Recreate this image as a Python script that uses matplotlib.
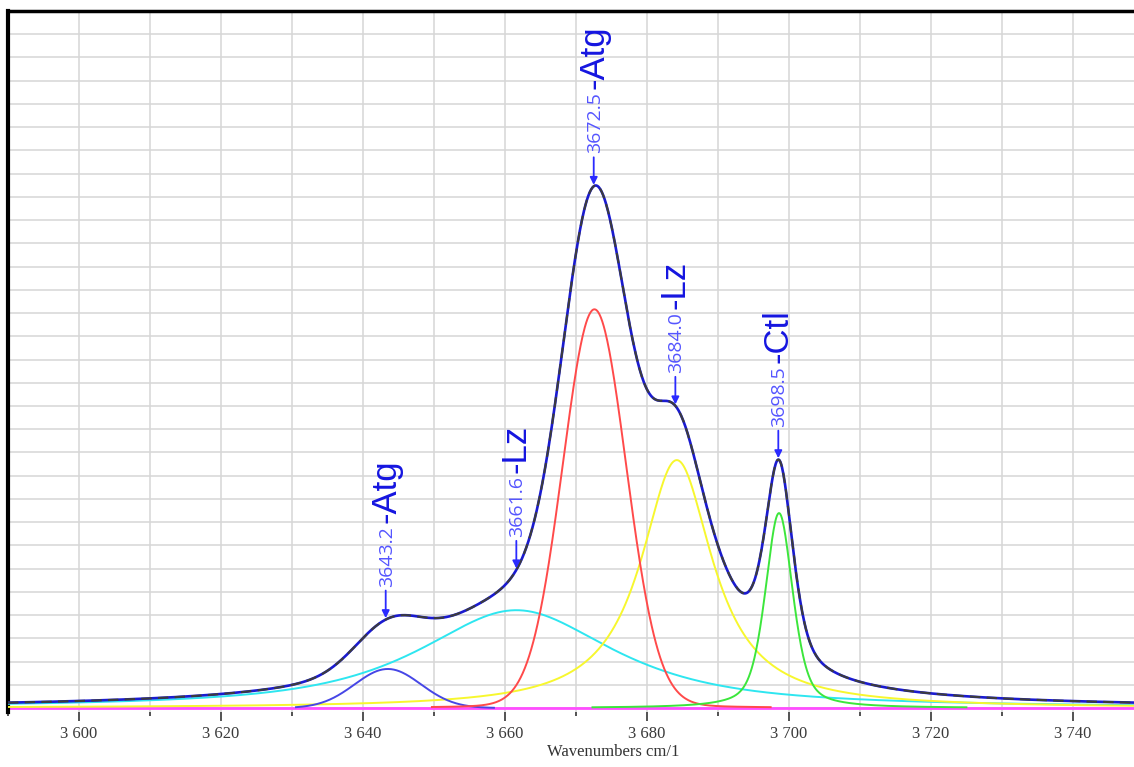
import matplotlib
matplotlib.use("Agg")
import matplotlib.pyplot as plt
import numpy as np
from matplotlib.ticker import MultipleLocator, FuncFormatter

# fitted band components
# (centre cm-1, height, fwhm cm-1, lorentz fraction, drawn from, drawn to)
comp_names = ["3643", "3661", "3672", "3684", "3698"]
comp_centre = [3643.5, 3661.6, 3672.6, 3684.2, 3698.6]
comp_height = [0.0168, 0.0421, 0.1716, 0.1067, 0.0839]
comp_fwhm = [11.0, 33.0, 10.6, 12.3, 4.6]
comp_eta = [0.0, 0.85, 0.05, 1.0, 0.5]
comp_from = [3630.5, 3590.0, 3649.7, 3590.0, 3672.3]
comp_to = [3658.5, 3748.6, 3697.5, 3748.6, 3725.0]
comp_colors = ["#4646e6", "#2ee6f0", "#ff4a4a", "#f7f72e", "#3ce63c"]

# peak labels
label_pos = [3643.2, 3661.6, 3672.5, 3684.0, 3698.5]
label_num = ["3643.2", "3661.6", "3672.5", "3684.0", "3698.5"]
label_name = ["-Atg", "-Lz", "-Atg", "-Lz", "-Ctl"]

x_min, x_max = 3590.0, 3748.6


def pvoigt(x, c, h, w, eta):
    g = np.exp(-4 * np.log(2) * ((x - c) / w) ** 2)
    l = 1.0 / (1.0 + (2 * (x - c) / w) ** 2)
    return h * (eta * l + (1 - eta) * g)


wn = np.linspace(x_min, x_max, 1600)
total = np.zeros_like(wn)
for i in range(len(comp_centre)):
    total += pvoigt(wn, comp_centre[i], comp_height[i], comp_fwhm[i], comp_eta[i])

fig = plt.figure(figsize=(11.34, 7.67), dpi=100)
ax = fig.add_axes([8 / 1134, (767 - 711.5) / 767, 1 - 8 / 1134, 700.5 / 767])

ax.set_xlim(x_min, x_max)
ax.set_ylim(-0.0015, 0.30)

ax.xaxis.set_major_locator(MultipleLocator(20))
ax.xaxis.set_minor_locator(MultipleLocator(10))
ax.yaxis.set_major_locator(MultipleLocator(0.01))
ax.grid(True, which="both", color="#d6d6d6", lw=1.1)
ax.set_axisbelow(True)
ax.xaxis.set_major_formatter(FuncFormatter(lambda v, p: "%d %03d" % (int(v) // 1000, int(v) % 1000)))
ax.tick_params(axis="x", which="major", direction="out", length=6.5, width=1.3,
               color="#444444", labelcolor="#3a3a3a", pad=4, labelsize=12)
ax.tick_params(axis="x", which="minor", direction="out", length=3, width=1.3, color="#444444")
for lab in ax.get_xticklabels():
    lab.set_fontfamily("Liberation Serif")
ax.tick_params(axis="y", left=False, labelleft=False)

ax.spines["right"].set_visible(False)
ax.spines["bottom"].set_visible(False)
ax.spines["top"].set_linewidth(2.5)
ax.spines["left"].set_linewidth(3)

# baseline
ax.plot([x_min, x_max], [0, 0], color="#ff4dff", lw=2, zorder=2)

order = [1, 3, 0, 2, 4]
for i in order:
    m = (wn >= comp_from[i]) & (wn <= comp_to[i])
    ax.plot(wn[m], pvoigt(wn[m], comp_centre[i], comp_height[i], comp_fwhm[i], comp_eta[i]),
            color=comp_colors[i], lw=1.4, zorder=3)

# measured spectrum and fit overlap
ax.plot(wn, total, color="#1a1ad0", lw=1.9, zorder=4)
ax.plot(wn, total, color="#3c3c3c", lw=1.5, dashes=(5, 3), zorder=5)

for i in range(len(label_pos)):
    yv = np.interp(label_pos[i], wn, total)
    ax.annotate("", xy=(label_pos[i], yv), xytext=(0, 29), textcoords="offset pixels",
                arrowprops=dict(arrowstyle="-|>", color="#2a2aff", lw=1.3,
                                mutation_scale=11, shrinkA=0, shrinkB=1), zorder=6)
    ax.annotate(label_num[i], xy=(label_pos[i], yv), xytext=(1, 33), textcoords="offset pixels",
                rotation=90, ha="center", va="bottom", color="#5555ff",
                fontsize=14, family="Open Sans", zorder=6)
    ax.annotate(label_name[i], xy=(label_pos[i], yv), xytext=(0, 97), textcoords="offset pixels",
                rotation=90, ha="center", va="bottom", color="#1515e0",
                fontsize=25, family="Liberation Sans", zorder=6)

fig.text(613 / 1134, 1 - 752 / 767, "Wavenumbers cm/1", ha="center", va="center",
         fontsize=12, family="Liberation Serif", color="#333333")

fig.savefig("out.png", dpi=100)
